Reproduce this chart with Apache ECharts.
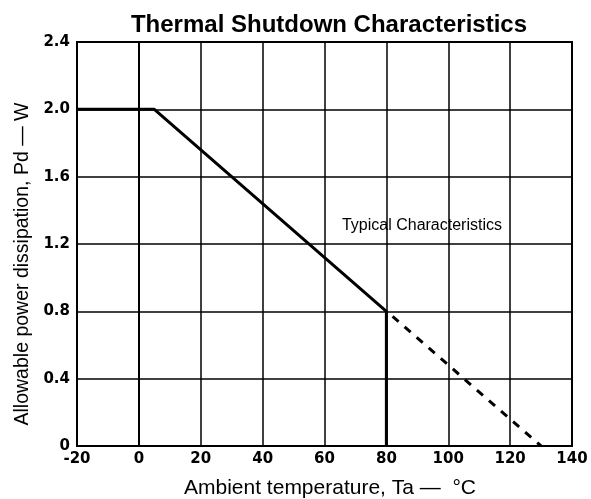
<!DOCTYPE html>
<html>
<head>
<meta charset="utf-8">
<script src="https://cdn.jsdelivr.net/npm/echarts@6/dist/echarts.min.js"></script>
<style>html,body{margin:0;padding:0;background:#fff}#c{width:591px;height:499px}</style>
</head>
<body>
<div id="c"></div>
<script>
const titleText = 'Thermal Shutdown Characteristics';
const xName = 'Ambient temperature, Ta \u2014  \u00B0C';
const yName = 'Allowable power dissipation, Pd \u2014 W';
const xTicks = [-20, 0, 20, 40, 60, 80, 100, 120, 140];
const yTicks = [0, 0.4, 0.8, 1.2, 1.6, 2.0, 2.4];
const solidTemp = [-20, 5, 80, 80];
const solidPd = [2.0, 2.0, 0.8, 0];
const dashedTemp = [82, 130];
const dashedPd = [0.77, 0];
const noteText = 'Typical Characteristics';
const noteTemp = 91.5;
const notePd = 1.31;

const zip = (a, b) => a.map((v, i) => [v, b[i]]);
const chart = echarts.init(document.getElementById('c'), null, {renderer: 'canvas'});
const tickFont = {fontFamily: 'DejaVu Sans', fontWeight: 'bold', fontSize: 15, color: '#000'};
chart.setOption({
  animation: false,
  backgroundColor: '#fff',
  title: {
    text: titleText, left: 324, top: 8, textAlign: 'center',
    textStyle: {fontFamily: 'Liberation Sans', fontWeight: 'bold', fontSize: 24, color: '#000'}
  },
  grid: {left: 77, right: 19, top: 42, bottom: 53, show: true, borderColor: '#000', borderWidth: 2,
         containLabel: false, outerBoundsMode: 'none'},
  xAxis: {
    type: 'value', min: -20, max: 140, interval: 20,
    name: xName, nameLocation: 'middle', nameGap: 32,
    nameTextStyle: {fontFamily: 'Liberation Sans', fontSize: 21, color: '#000', padding: [0, 0, 0, 11]},
    axisLine: {show: true, lineStyle: {color: '#000', width: 2}},
    axisTick: {show: false},
    axisLabel: Object.assign({margin: 6, formatter: v => String(v)}, tickFont),
    splitLine: {show: true, lineStyle: {color: '#000', width: 1.5}}
  },
  yAxis: {
    type: 'value', min: 0, max: 2.4, interval: 0.4,
    name: yName, nameLocation: 'middle', nameGap: 42,
    nameTextStyle: {fontFamily: 'Liberation Sans', fontSize: 19.5, color: '#000', padding: [0, 40, 0, 0]},
    axisLine: {show: true, lineStyle: {color: '#000', width: 2}},
    axisTick: {show: false},
    axisLabel: Object.assign({margin: 7, formatter: v => v === 0 ? '0' : v.toFixed(1)}, tickFont),
    splitLine: {show: true, lineStyle: {color: '#000', width: 1.5}}
  },
  series: [
    {
      type: 'line', data: zip(solidTemp, solidPd), symbol: 'none',
      lineStyle: {color: '#000', width: 3},
      markPoint: {
        symbol: 'circle', symbolSize: 0,
        data: [{coord: [noteTemp, notePd], value: noteText}],
        label: {show: true, formatter: noteText, color: '#000', fontFamily: 'Liberation Sans', fontSize: 16}
      }
    },
    {
      type: 'line', data: zip(dashedTemp, dashedPd), symbol: 'none',
      lineStyle: {color: '#000', width: 3, type: [8, 8]}
    }
  ]
});
</script>
</body>
</html>
